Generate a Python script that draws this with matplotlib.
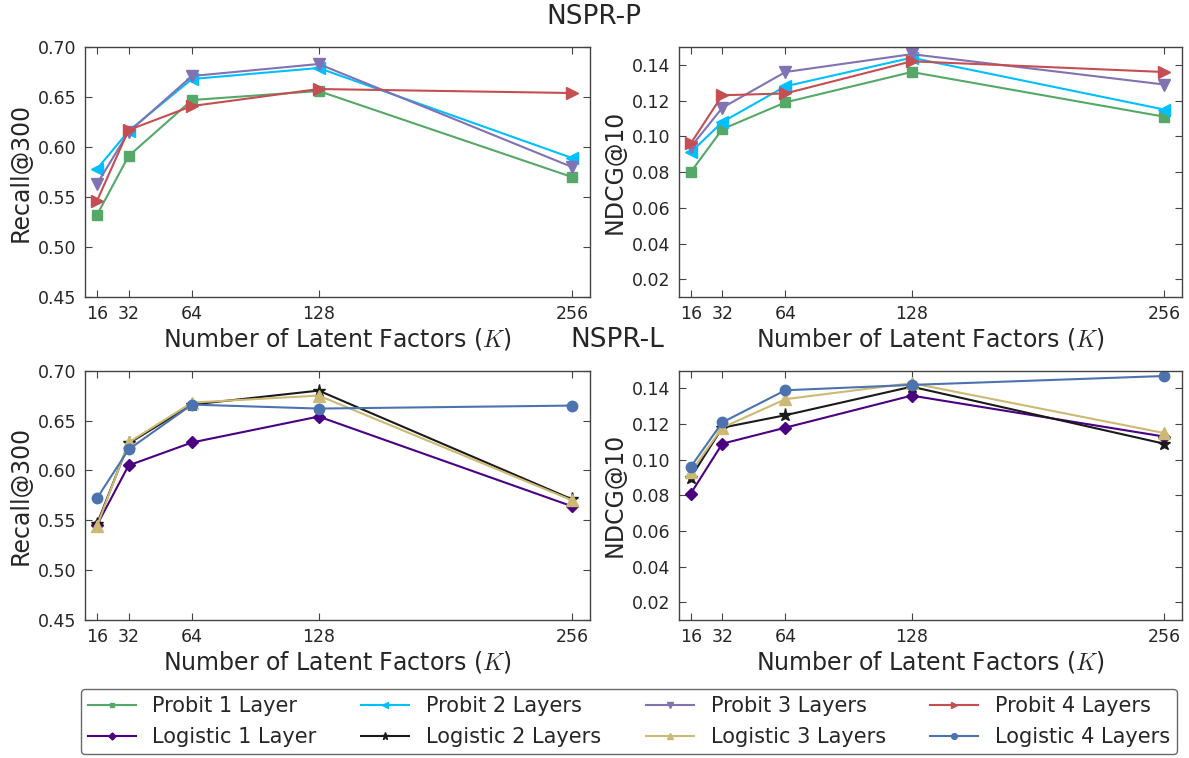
import matplotlib
matplotlib.use("Agg")
import matplotlib.pyplot as plt

# latent factor sizes
K = [16, 32, 64, 128, 256]

# NSPR-P (probit), recall@300 and ndcg@10
probit_recall = {
    "Probit 1 Layer": [0.532, 0.591, 0.647, 0.656, 0.570],
    "Probit 2 Layers": [0.578, 0.616, 0.668, 0.679, 0.589],
    "Probit 3 Layers": [0.563, 0.615, 0.671, 0.683, 0.580],
    "Probit 4 Layers": [0.546, 0.617, 0.641, 0.658, 0.654],
}
probit_ndcg = {
    "Probit 1 Layer": [0.080, 0.104, 0.119, 0.136, 0.111],
    "Probit 2 Layers": [0.091, 0.108, 0.128, 0.144, 0.115],
    "Probit 3 Layers": [0.094, 0.116, 0.136, 0.146, 0.129],
    "Probit 4 Layers": [0.096, 0.123, 0.124, 0.142, 0.136],
}

# NSPR-L (logistic)
logit_recall = {
    "Logistic 1 Layer": [0.545, 0.605, 0.628, 0.654, 0.564],
    "Logistic 2 Layers": [0.546, 0.627, 0.666, 0.680, 0.571],
    "Logistic 3 Layers": [0.544, 0.628, 0.668, 0.675, 0.570],
    "Logistic 4 Layers": [0.572, 0.621, 0.666, 0.662, 0.665],
}
logit_ndcg = {
    "Logistic 1 Layer": [0.081, 0.109, 0.118, 0.136, 0.113],
    "Logistic 2 Layers": [0.090, 0.118, 0.125, 0.141, 0.109],
    "Logistic 3 Layers": [0.093, 0.118, 0.134, 0.143, 0.115],
    "Logistic 4 Layers": [0.096, 0.121, 0.139, 0.142, 0.147],
}

styles = {
    "Probit 1 Layer": ("#55A868", "s", 6.5),
    "Probit 2 Layers": ("#00BFFF", "<", 8.5),
    "Probit 3 Layers": ("#8172B2", "v", 8.5),
    "Probit 4 Layers": ("#C44E52", ">", 8.5),
    "Logistic 1 Layer": ("#4B0082", "D", 6.5),
    "Logistic 2 Layers": ("#1a1a1a", "*", 9.5),
    "Logistic 3 Layers": ("#CCB974", "^", 8.5),
    "Logistic 4 Layers": ("#4C72B0", "o", 7.5),
}

txt = "#262626"
plt.rcParams["mathtext.fontset"] = "cm"
plt.rcParams["text.color"] = txt
plt.rcParams["axes.labelcolor"] = txt
plt.rcParams["xtick.color"] = txt
plt.rcParams["ytick.color"] = txt

fig = plt.figure(figsize=(11.89, 7.58), dpi=100)
rects = [
    [0.0715, 0.608, 0.4247, 0.330],
    [0.571, 0.608, 0.423, 0.330],
    [0.0715, 0.182, 0.4247, 0.329],
    [0.571, 0.182, 0.423, 0.329],
]
panels = [
    (probit_recall, "Recall@300", (0.45, 0.70), [0.45, 0.50, 0.55, 0.60, 0.65, 0.70]),
    (probit_ndcg, "NDCG@10", (0.01, 0.15), [0.02, 0.04, 0.06, 0.08, 0.10, 0.12, 0.14]),
    (logit_recall, "Recall@300", (0.45, 0.70), [0.45, 0.50, 0.55, 0.60, 0.65, 0.70]),
    (logit_ndcg, "NDCG@10", (0.01, 0.15), [0.02, 0.04, 0.06, 0.08, 0.10, 0.12, 0.14]),
]

handles = {}
for rect, (data, ylab, ylim, yt) in zip(rects, panels):
    ax = fig.add_axes(rect)
    for name, vals in data.items():
        c, m, ms = styles[name]
        ln, = ax.plot(K, vals, color=c, marker=m, markersize=ms, lw=1.5,
                      markeredgecolor=c, label=name)
        handles[name] = ln
    ax.set_xlim(10, 265)
    ax.set_ylim(*ylim)
    ax.set_xticks(K)
    ax.set_yticks(yt)
    ax.set_yticklabels(["%.2f" % v for v in yt])
    ax.tick_params(direction="in", top=True, right=True, length=5,
                   labelsize=12.5, color="#444444", pad=6)
    for s in ax.spines.values():
        s.set_color("#444444")
        s.set_linewidth(1.0)
    ax.set_ylabel(ylab, fontsize=17)
    ax.set_xlabel("Number of Latent Factors ($K$)", fontsize=17, labelpad=2)

fig.text(0.4996, 0.978, "NSPR-P", ha="center", va="center", fontsize=19)
fig.text(0.519, 0.5515, "NSPR-L", ha="center", va="center", fontsize=19)

order = ["Probit 1 Layer", "Logistic 1 Layer", "Probit 2 Layers", "Logistic 2 Layers",
         "Probit 3 Layers", "Logistic 3 Layers", "Probit 4 Layers", "Logistic 4 Layers"]
leg = fig.legend([handles[n] for n in order], order, ncol=4, loc="center",
                 bbox_to_anchor=(0.529, 0.048), fontsize=15, markerscale=0.55,
                 frameon=True, fancybox=True, edgecolor="#444444",
                 columnspacing=2.15, handlelength=2.3, labelspacing=0.5,
                 handletextpad=0.8, borderpad=0.35)
leg.get_frame().set_linewidth(1.0)

fig.savefig("out.png", dpi=100)
